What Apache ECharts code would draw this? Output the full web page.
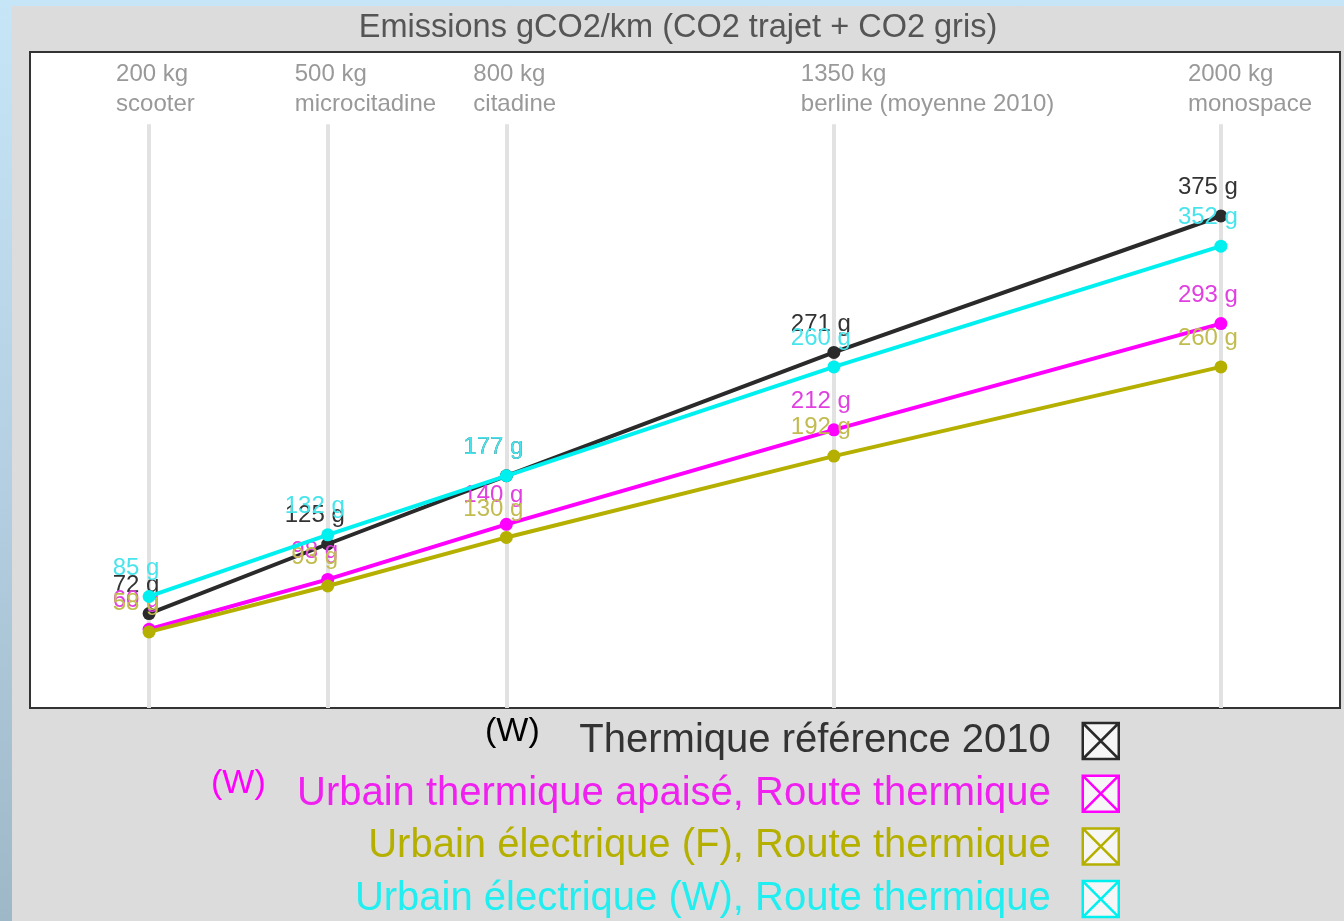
<!DOCTYPE html>
<html>
<head>
<meta charset="utf-8">
<title>Emissions gCO2/km</title>
<script src="https://cdn.jsdelivr.net/npm/echarts@6.0.0/dist/echarts.min.js"></script>
<style>
  html, body { margin: 0; padding: 0; width: 1344px; height: 921px; overflow: hidden; }
  body { background: linear-gradient(180deg, #c6e6f8 0%, #b4d0e2 50%, #9fb8c8 100%); position: relative; }
  #chart { position: absolute; left: 12px; top: 6px; width: 1332px; height: 915px; background: #dcdcdc; }
</style>
</head>
<body>
<div id="chart"></div>
<script>
// ---- données ----
var WEIGHTS = [200, 500, 800, 1350, 2000];
var VEHICLES = ['scooter', 'microcitadine', 'citadine', 'berline (moyenne 2010)', 'monospace'];

var THERMIQUE_2010 = [72, 125, 177, 271, 375];
var URBAIN_APAISE  = [60, 98, 140, 212, 293];
var ELEC_F         = [58, 93, 130, 192, 260];
var ELEC_W         = [85, 132, 177, 260, 352];

var SERIES_NAMES = [
  'Thermique référence 2010',
  'Urbain thermique apaisé, Route thermique',
  'Urbain électrique (F), Route thermique',
  'Urbain électrique (W), Route thermique'
];
var SERIES_VALUES = [THERMIQUE_2010, URBAIN_APAISE, ELEC_F, ELEC_W];
var LINE_COLORS   = ['#2a2a2a', '#ff00ff', '#b5b000', '#00f0f0'];
var LABEL_COLORS  = ['#333333', '#e040e0', '#c2bc50', '#48e4ec'];
var LEGEND_COLORS = ['#333333', '#f020f0', '#b5b000', '#20eef0'];

var FONT = 'Arial, "Liberation Sans", sans-serif';
var BOX_X = 'path://M0,0 L10,0 L10,10 L0,10 Z M0,0 L10,10 M10,0 L0,10';

function pairs(values) {
  return values.map(function(v, i) { return [WEIGHTS[i], v]; });
}

// ---- séries ----
var series = SERIES_NAMES.map(function(name, idx) {
  var s = {
    name: name,
    type: 'line',
    data: pairs(SERIES_VALUES[idx]),
    symbol: 'circle',
    symbolSize: 13,
    lineStyle: { color: LINE_COLORS[idx], width: 4 },
    itemStyle: { color: LINE_COLORS[idx] },
    label: {
      show: true, position: 'top', distance: 10, offset: [-13, 0],
      color: LABEL_COLORS[idx], fontSize: 24, fontFamily: FONT,
      formatter: function(p) { return p.value[1] + ' g'; }
    },
    emphasis: { disabled: true },
    z: 3 + idx
  };
  // lignes verticales grises sous chaque véhicule
  if (idx === 0) {
    s.markLine = {
      silent: true, symbol: 'none', z: 1,
      label: { show: false },
      lineStyle: { color: '#e2e2e2', width: 4, type: 'solid' },
      data: WEIGHTS.map(function(w) { return [{ coord: [w, 0] }, { coord: [w, 445] }]; })
    };
  }
  return s;
});

var chart = echarts.init(document.getElementById('chart'));

chart.setOption({
  animation: false,
  backgroundColor: 'transparent',
  title: {
    text: 'Emissions gCO2/km (CO2 trajet + CO2 gris)',
    left: 'center', top: 1,
    textStyle: { color: '#555', fontSize: 32.5, fontWeight: 'normal', fontFamily: FONT }
  },
  grid: {
    left: 18, right: 4, top: 46, bottom: 213,
    show: true, backgroundColor: '#fff', borderColor: '#333', borderWidth: 2
  },
  xAxis: {
    type: 'value', min: 0, max: 2200, position: 'top',
    axisLine: { show: false },
    axisTick: { show: false },
    splitLine: { show: false },
    axisLabel: {
      inside: true, margin: 7,
      customValues: WEIGHTS,
      align: 'left', padding: [0, 0, 0, -33],
      color: '#999', fontSize: 24, lineHeight: 30, fontFamily: FONT,
      formatter: function(v) {
        var i = WEIGHTS.indexOf(v);
        return i < 0 ? '' : v + ' kg\n' + VEHICLES[i];
      }
    }
  },
  yAxis: {
    type: 'value', min: 0, max: 500, show: false,
    splitLine: { show: false }
  },
  legend: {
    orient: 'vertical', right: 219, top: 710, height: 260,
    align: 'right',
    icon: BOX_X,
    itemWidth: 36, itemHeight: 36, itemGap: 12.7,
    itemStyle: { color: '#f6f6f6', borderWidth: 2.5 },
    selectedMode: false,
    textStyle: { fontSize: 40, lineHeight: 40, fontFamily: FONT, padding: [0, 27, 0, 0] },
    data: SERIES_NAMES.map(function(n, i) {
      return {
        name: n,
        itemStyle: { color: '#f6f6f6', borderColor: LINE_COLORS[i], borderWidth: 2.5 },
        textStyle: { color: LEGEND_COLORS[i] }
      };
    })
  },
  graphic: [
    { type: 'text', left: 473, top: 709,
      style: { text: '(W)', fill: '#000', font: '34px ' + FONT } },
    { type: 'text', left: 199, top: 761,
      style: { text: '(W)', fill: '#ff00ff', font: '34px ' + FONT } }
  ],
  series: series
});
</script>
</body>
</html>
